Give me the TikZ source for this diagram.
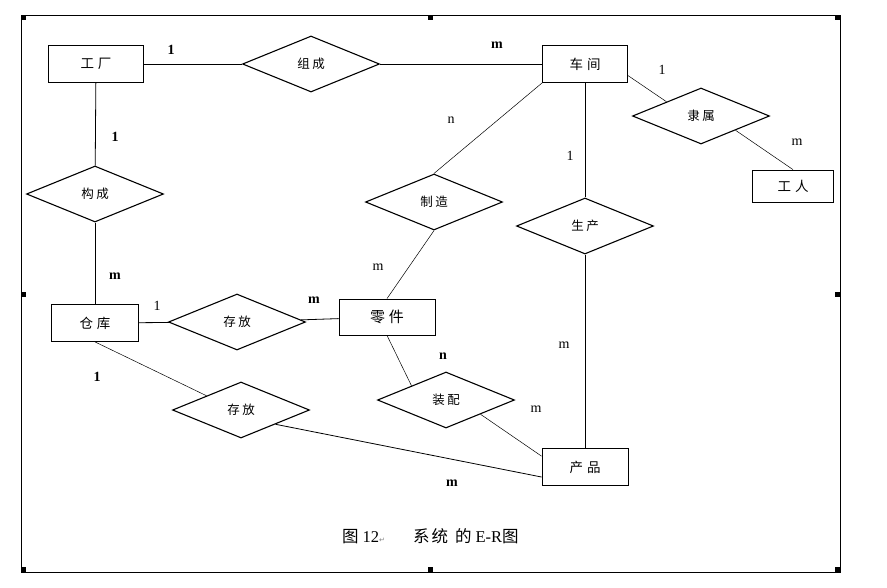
\documentclass[tikz,border=0pt]{standalone}
\usepackage{fontspec}
\setmainfont{Liberation Serif}
\newfontfamily\cjk{Noto Sans CJK SC}
\newfontfamily\symb{DejaVu Sans}
\usetikzlibrary{shapes.geometric}
\newcommand{\cgap}{\hspace{4pt}}
\newcommand{\rgap}{\hspace{2.5pt}}

\begin{document}
\begin{tikzpicture}[x=1pt,y=-1pt,
    entity/.style={draw,line width=0.8pt,minimum height=37pt,inner sep=0pt,font=\cjk\fontsize{13.5}{13.5}\selectfont},
    relation/.style={draw,diamond,aspect=2.4,line width=1.1pt,inner sep=0pt,minimum width=137pt,minimum height=56pt,font=\cjk\fontsize{12.5}{12.5}\selectfont},
    conn/.style={line width=0.8pt},
    thinconn/.style={line width=0.5pt},
    card/.style={inner sep=0pt,font=\fontsize{14}{14}\selectfont},
    cardb/.style={inner sep=0pt,font=\fontsize{14}{14}\selectfont\bfseries}]
    \useasboundingbox (0,0) rectangle (887,587);
    \draw[line width=0.9pt] (21,15) rectangle (840,572);
    \foreach \hx/\hy in {21/15,428/15,835/15,21/292,835/292,21/567,428/567,835/567}
        \fill (\hx,\hy) rectangle ++(5,5);
    % entities
    \node[entity,minimum width=95pt] (gongchang) at (96,64) {工\cgap 厂};
    \node[entity,minimum width=85pt] (chejian) at (585,64) {车\cgap 间};
    \node[entity,minimum width=81pt,minimum height=32pt] (gongren) at (793,186) {工\cgap 人};
    \node[entity,minimum width=87pt] (cangku) at (95,323) {仓\cgap 库};
    \node[entity,minimum width=96pt,minimum height=36pt,font=\cjk\fontsize{15}{15}\selectfont] (lingjian) at (387,317) {零\cgap 件};
    \node[entity,minimum width=86pt] (chanpin) at (585,467) {产\cgap 品};
    % relations
    \node[relation] (zucheng) at (311,64) {组\rgap 成};
    \node[relation] (goucheng) at (95,194) {构\rgap 成};
    \node[relation] (zhizao) at (434,202) {制\rgap 造};
    \node[relation] (lishu) at (701,116) {隶\rgap 属};
    \node[relation] (shengchan) at (585,226) {生\rgap 产};
    \node[relation] (cunfangA) at (237,322) {存\rgap 放};
    \node[relation] (cunfangB) at (241,410) {存\rgap 放};
    \node[relation] (zhuangpei) at (446,400) {装\rgap 配};
    % connectors
    \draw[conn] (gongchang) -- (zucheng);
    \draw[conn] (zucheng) -- (chejian);
    \draw[conn] (gongchang) -- (goucheng);
    \draw[conn] (goucheng) -- (cangku);
    \draw[thinconn] (chejian.south west) -- (zhizao.north);
    \draw[conn] (chejian.south) -- (shengchan.north);
    \draw[thinconn] (chejian.-15) -- (lishu.north west);
    \draw[thinconn] (lishu.south east) -- (gongren.north);
    \draw[thinconn] (zhizao.south) -- (lingjian.north);
    \draw[conn] (cangku) -- (cunfangA);
    \draw[conn] (cunfangA) -- (lingjian);
    \draw[thinconn] (cangku.south) -- (cunfangB.north west);
    \draw[conn] (cunfangB.south east) -- (chanpin.193);
    \draw[thinconn] (lingjian.south) -- (zhuangpei.north west);
    \draw[thinconn] (zhuangpei.south east) -- (chanpin.166);
    \draw[conn] (shengchan.south) -- (chanpin.north);
    % cardinalities
    \node[cardb] (c1) at (171,50) {1};
    \node[cardb] (c2) at (497,45) {m};
    \node[cardb] (c3) at (115,137) {1};
    \node[cardb] (c4) at (115,276) {m};
    \node[card] (c5) at (451,120) {n};
    \node[card] (c6) at (570,156) {1};
    \node[card] (c7) at (662,70) {1};
    \node[card] (c8) at (797,142) {m};
    \node[card] (c9) at (378,267) {m};
    \node[card] (c10) at (157,306) {1};
    \node[cardb] (c11) at (314,300) {m};
    \node[cardb] (c12) at (97,377) {1};
    \node[cardb] (c13) at (443,356) {n};
    \node[card] (c14) at (536,409) {m};
    \node[card] (c15) at (564,345) {m};
    \node[cardb] (c16) at (452,483) {m};
    % caption
    \node[anchor=west,inner sep=0pt,font=\fontsize{16.5}{16.5}\selectfont] (caption) at (342,536)
        {{\cjk 图}\hspace{4pt}12{\symb\color{gray}\fontsize{7}{7}\selectfont ↵}\hspace{28pt}{\cjk 系\hspace{2pt}统\hspace{7pt}的}\hspace{4pt}E-R{\cjk 图}};
\end{tikzpicture}
\end{document}
